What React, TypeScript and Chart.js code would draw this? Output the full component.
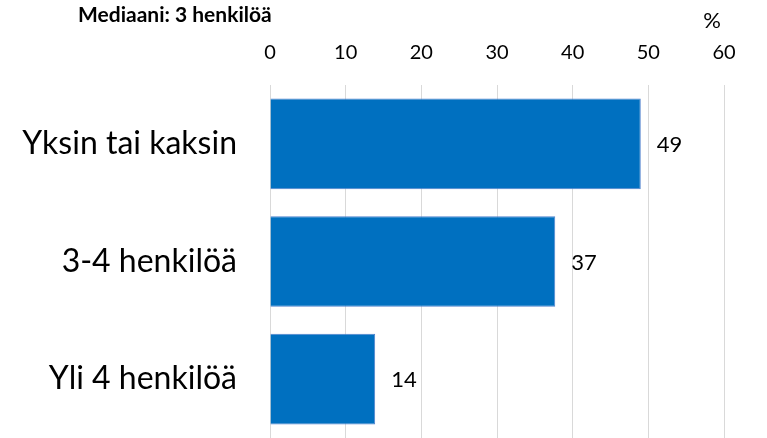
import React, { useEffect, useRef } from "react";
import { Chart, registerables } from "chart.js";

Chart.register(...registerables);

const categories = ["Yksin tai kaksin", "3-4 henkilöä", "Yli 4 henkilöä"];
const values = [49, 37.7, 13.9];
const valueLabels = ["49", "37", "14"];
const tickValues = [0, 10, 20, 30, 40, 50, 60];
const titleText = "Mediaani: 3 henkilöä";
const unitText = "%";

const FONT = "Lato, 'Open Sans', sans-serif";

export default function App() {
  const ref = useRef<HTMLCanvasElement | null>(null);
  useEffect(() => {
    const canvas = ref.current;
    if (!canvas) return;
    const overlay = {
      id: "overlay",
      afterDatasetsDraw(chart: any) {
        const ctx = chart.ctx;
        const meta = chart.getDatasetMeta(0);
        ctx.save();
        ctx.fillStyle = "#000";
        ctx.font = `22px ${FONT}`;
        ctx.textAlign = "left";
        ctx.textBaseline = "middle";
        meta.data.forEach((bar: any, i: number) => {
          ctx.fillText(valueLabels[i], bar.x + 16, bar.y + 1);
        });
        ctx.font = `bold 21px ${FONT}`;
        ctx.textAlign = "left";
        ctx.textBaseline = "alphabetic";
        ctx.fillText(titleText, 78, 22);
        ctx.font = `22px ${FONT}`;
        ctx.textAlign = "center";
        ctx.fillText(unitText, 712, 28);
        ctx.restore();
      },
    };
    const chart = new Chart(canvas, {
      type: "bar",
      data: {
        labels: categories,
        datasets: [
          {
            data: values,
            backgroundColor: "#0070C0",
            borderColor: "#4F81CD",
            borderWidth: 1,
            categoryPercentage: 1,
            barPercentage: 0.77,
          },
        ],
      },
      options: {
        indexAxis: "y",
        animation: false,
        responsive: false,
        maintainAspectRatio: false,
        layout: { padding: { left: 0, right: 43, top: 0, bottom: 0 } },
        plugins: {
          legend: { display: false },
          tooltip: { enabled: false },
          title: { display: false },
        },
        scales: {
          x: {
            position: "top",
            min: 0,
            max: 60,
            afterBuildTicks: (scale: any) => {
              scale.ticks = tickValues.map((v) => ({ value: v }));
            },
            afterFit: (scale: any) => {
              scale.height = 85;
              scale.paddingLeft = 0;
              scale.paddingRight = 0;
            },
            grid: { color: "#D9D9D9", lineWidth: 1, drawTicks: false },
            border: { display: false },
            ticks: {
              color: "#000",
              font: { family: FONT, size: 20 },
              padding: 20,
              maxRotation: 0,
            },
          },
          y: {
            afterFit: (scale: any) => {
              scale.width = 270;
              scale.paddingTop = 0;
              scale.paddingBottom = 0;
            },
            grid: { display: false, drawTicks: false },
            border: { display: false },
            ticks: {
              color: "#000",
              font: { family: FONT, size: 32 },
              padding: 33,
            },
          },
        },
      },
      plugins: [overlay],
    });
    return () => chart.destroy();
  }, []);
  return (
    <div style={{ position: "fixed", left: 0, top: 0, width: 767, height: 438, background: "#fff" }}>
      <canvas ref={ref} width={767} height={438} />
    </div>
  );
}
